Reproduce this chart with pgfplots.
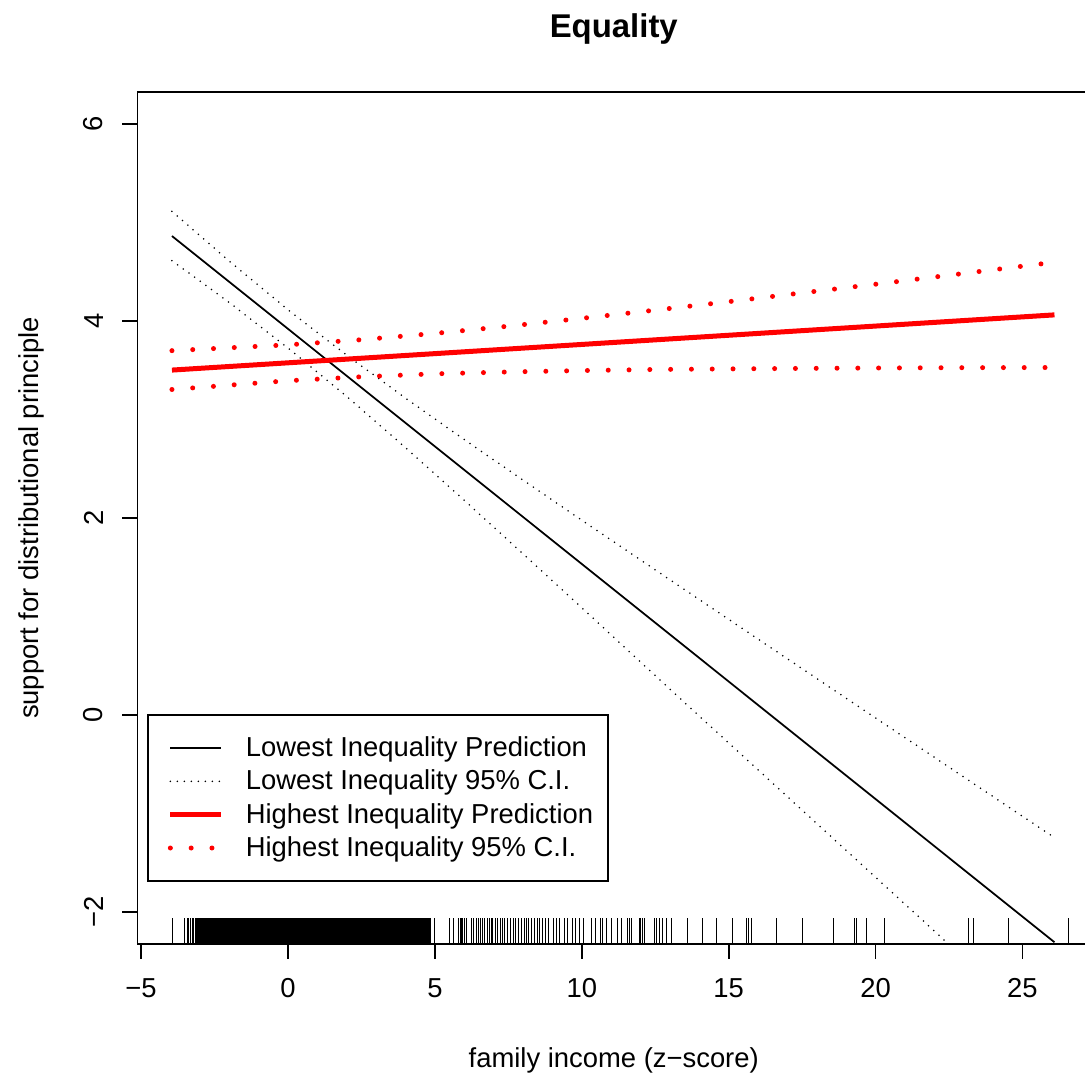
\documentclass[border=0pt]{standalone}
\usepackage{fontspec}
\setmainfont{Liberation Sans}
\usepackage{pgfplots}
\pgfplotsset{compat=1.18}
\newcommand\fs{\fontsize{13.7}{16.4}\selectfont}
\begin{document}
\begin{tikzpicture}
\begin{axis}[
  at={(0pt,0pt)}, anchor=south west,
  scale only axis, width=476.25pt, height=425.85pt,
  xmin=-5.123, xmax=27.30, ymin=-2.32, ymax=6.32,
  axis line style={line width=0.875pt},
  tick style={line width=0.875pt, black},
  tick align=outside, tick pos=left,
  major tick length=7.5pt,
  xtick={-5,0,5,10,15,20,25},
  xticklabels={−5,0,5,10,15,20,25},
  ytick={-2,0,2,4,6},
  yticklabels={−2,0,2,4,6},
  xticklabel style={anchor=north, inner sep=0pt, font=\fs},
  yticklabel style={rotate=90, anchor=south, inner sep=0pt, font=\fs},
  xticklabel shift=9.5pt, yticklabel shift=9.5pt,
  every axis title shift=0pt,
  title={Equality},
  title style={at={(axis description cs:0.5,1.0744)}, anchor=center, font=\bfseries\fontsize{16.45}{19.7}\selectfont, inner sep=0pt},
  xlabel={family income (z−score)},
  xlabel style={at={(axis description cs:0.5,-0.1374)}, anchor=center, font=\fs, inner sep=0pt},
  ylabel={support for distributional principle},
  ylabel style={at={(axis description cs:-0.1113,0.5)}, anchor=center, font=\fs, inner sep=0pt},
  legend style={
    at={(axis description cs:0.00997,0.0728)}, anchor=south west,
    draw=black, line width=0.875pt, fill=white,
    inner xsep=7.5pt, inner ysep=10.75pt,
    row sep=5.25pt, column sep=0pt,
    font=\fs,
    nodes={inner sep=0pt},
  },
  legend cell align=left,
  legend image code/.code={\path (0pt,0pt) (39pt,0pt); \draw[#1] (2.5pt,0pt) -- (28pt,0pt);},
]
% Lowest inequality prediction
\addplot[black, line width=0.875pt] coordinates {(-3.95,4.860) (26.09,-2.304)};
\addlegendentry{Lowest Inequality Prediction}
% Lowest inequality 95% CI (upper and lower)
\addplot[black, line width=0.875pt, line cap=round, dash pattern=on 0pt off 3.5pt] coordinates {
(-3.95,5.110) (-2,4.605) (0,4.112) (2,3.651) (4,3.215) (6,2.795) (8,2.384) (10,1.977) (12,1.574) (14,1.172) (16,0.771) (18,0.371) (20,-0.029) (22,-0.428) (24,-0.827) (26.09,-1.243)};
\addlegendentry{Lowest Inequality 95\% C.I.}
\addplot[black, line width=0.875pt, line cap=round, dash pattern=on 0pt off 3.5pt, forget plot] coordinates {
(-3.95,4.610) (-2,4.186) (0,3.724) (2,3.232) (4,2.713) (6,2.179) (8,1.636) (10,1.089) (12,0.538) (14,-0.010) (16,-0.555) (18,-1.100) (20,-1.645) (22,-2.190) (24,-2.740) (26.09,-3.310)};
% Highest inequality prediction
\addplot[red, line width=2.5pt] coordinates {(-3.95,3.500) (26.09,4.060)};
\addlegendentry{Highest Inequality Prediction}
\addplot[red, line width=2.5pt, line cap=round, dash pattern=on 0pt off 10.4pt] coordinates {
(-3.95,3.697) (0,3.756) (2.5,3.808) (5,3.872) (7.5,3.945) (10,4.025) (12.5,4.108) (15,4.194) (17.5,4.283) (20,4.371) (22.5,4.462) (26.09,4.594)};
\addlegendentry{Highest Inequality 95\% C.I.}
\addplot[red, line width=2.5pt, line cap=round, dash pattern=on 0pt off 10.4pt, forget plot] coordinates {
(-3.95,3.303) (0,3.392) (2.5,3.432) (5,3.462) (7.5,3.481) (10,3.495) (12.5,3.506) (15,3.512) (17.5,3.517) (20,3.521) (22.5,3.524) (26.09,3.526)};
% Rug: dense block
\addplot[black, only marks, mark=|, mark size=6.4pt, mark options={line width=0.8pt}, forget plot] coordinates {
(-3.15,-2.19) (-3.10,-2.19) (-3.05,-2.19) (-3.00,-2.19) (-2.95,-2.19) (-2.90,-2.19) (-2.85,-2.19) (-2.80,-2.19) (-2.75,-2.19) (-2.70,-2.19)
(-2.65,-2.19) (-2.60,-2.19) (-2.55,-2.19) (-2.50,-2.19) (-2.45,-2.19) (-2.40,-2.19) (-2.35,-2.19) (-2.30,-2.19) (-2.25,-2.19) (-2.20,-2.19)
(-2.15,-2.19) (-2.10,-2.19) (-2.05,-2.19) (-2.00,-2.19) (-1.95,-2.19) (-1.90,-2.19) (-1.85,-2.19) (-1.80,-2.19) (-1.75,-2.19) (-1.70,-2.19)
(-1.65,-2.19) (-1.60,-2.19) (-1.55,-2.19) (-1.50,-2.19) (-1.45,-2.19) (-1.40,-2.19) (-1.35,-2.19) (-1.30,-2.19) (-1.25,-2.19) (-1.20,-2.19)
(-1.15,-2.19) (-1.10,-2.19) (-1.05,-2.19) (-1.00,-2.19) (-0.95,-2.19) (-0.90,-2.19) (-0.85,-2.19) (-0.80,-2.19) (-0.75,-2.19) (-0.70,-2.19)
(-0.65,-2.19) (-0.60,-2.19) (-0.55,-2.19) (-0.50,-2.19) (-0.45,-2.19) (-0.40,-2.19) (-0.35,-2.19) (-0.30,-2.19) (-0.25,-2.19) (-0.20,-2.19)
(-0.15,-2.19) (-0.10,-2.19) (-0.05,-2.19) (0.00,-2.19) (0.05,-2.19) (0.10,-2.19) (0.15,-2.19) (0.20,-2.19) (0.25,-2.19) (0.30,-2.19)
(0.35,-2.19) (0.40,-2.19) (0.45,-2.19) (0.50,-2.19) (0.55,-2.19) (0.60,-2.19) (0.65,-2.19) (0.70,-2.19) (0.75,-2.19) (0.80,-2.19)
(0.85,-2.19) (0.90,-2.19) (0.95,-2.19) (1.00,-2.19) (1.05,-2.19) (1.10,-2.19) (1.15,-2.19) (1.20,-2.19) (1.25,-2.19) (1.30,-2.19)
(1.35,-2.19) (1.40,-2.19) (1.45,-2.19) (1.50,-2.19) (1.55,-2.19) (1.60,-2.19) (1.65,-2.19) (1.70,-2.19) (1.75,-2.19) (1.80,-2.19)
(1.85,-2.19) (1.90,-2.19) (1.95,-2.19) (2.00,-2.19) (2.05,-2.19) (2.10,-2.19) (2.15,-2.19) (2.20,-2.19) (2.25,-2.19) (2.30,-2.19)
(2.35,-2.19) (2.40,-2.19) (2.45,-2.19) (2.50,-2.19) (2.55,-2.19) (2.60,-2.19) (2.65,-2.19) (2.70,-2.19) (2.75,-2.19) (2.80,-2.19)
(2.85,-2.19) (2.90,-2.19) (2.95,-2.19) (3.00,-2.19) (3.05,-2.19) (3.10,-2.19) (3.15,-2.19) (3.20,-2.19) (3.25,-2.19) (3.30,-2.19)
(3.35,-2.19) (3.40,-2.19) (3.45,-2.19) (3.50,-2.19) (3.55,-2.19) (3.60,-2.19) (3.65,-2.19) (3.70,-2.19) (3.75,-2.19) (3.80,-2.19)
(3.85,-2.19) (3.90,-2.19) (3.95,-2.19) (4.00,-2.19) (4.05,-2.19) (4.10,-2.19) (4.15,-2.19) (4.20,-2.19) (4.25,-2.19) (4.30,-2.19)
(4.35,-2.19) (4.40,-2.19) (4.45,-2.19) (4.50,-2.19) (4.55,-2.19) (4.60,-2.19) (4.65,-2.19) (4.70,-2.19) (4.75,-2.19) (4.80,-2.19)
(4.85,-2.19)};
% Rug: individual observations
\addplot[black, only marks, mark=|, mark size=6.4pt, mark options={line width=0.5pt}, forget plot] coordinates {
(-3.94,-2.19) (-3.51,-2.19) (-3.42,-2.19) (-3.38,-2.19) (-3.32,-2.19) (-3.25,-2.19) (-3.21,-2.19)
(4.97,-2.19) (5.49,-2.19) (5.65,-2.19) (5.80,-2.19) (5.86,-2.19) (5.90,-2.19) (5.95,-2.19) (6.02,-2.19) (6.08,-2.19) (6.23,-2.19)
(6.32,-2.19) (6.40,-2.19) (6.48,-2.19) (6.55,-2.19) (6.63,-2.19) (6.70,-2.19) (6.78,-2.19) (6.86,-2.19) (6.93,-2.19) (6.97,-2.19)
(7.05,-2.19) (7.14,-2.19) (7.22,-2.19) (7.30,-2.19) (7.38,-2.19) (7.47,-2.19) (7.58,-2.19) (7.66,-2.19) (7.76,-2.19) (7.85,-2.19)
(7.95,-2.19) (8.05,-2.19) (8.12,-2.19) (8.18,-2.19) (8.28,-2.19) (8.38,-2.19) (8.48,-2.19) (8.57,-2.19) (8.65,-2.19) (8.75,-2.19)
(8.87,-2.19) (9.05,-2.19) (9.15,-2.19) (9.25,-2.19) (9.40,-2.19) (9.52,-2.19) (9.67,-2.19) (9.80,-2.19) (9.92,-2.19) (10.05,-2.19)
(10.34,-2.19) (10.45,-2.19) (10.63,-2.19) (10.72,-2.19) (10.85,-2.19) (11.02,-2.19) (11.21,-2.19) (11.36,-2.19) (11.55,-2.19) (11.61,-2.19)
(11.70,-2.19) (11.96,-2.19) (12.00,-2.19) (12.06,-2.19) (12.15,-2.19) (12.49,-2.19) (12.55,-2.19) (12.64,-2.19) (12.74,-2.19) (12.89,-2.19)
(13.06,-2.19) (13.60,-2.19) (14.11,-2.19) (14.59,-2.19) (15.12,-2.19) (15.61,-2.19) (15.67,-2.19) (15.78,-2.19) (16.63,-2.19) (17.51,-2.19)
(18.58,-2.19) (19.30,-2.19) (19.36,-2.19) (19.70,-2.19) (20.32,-2.19) (23.16,-2.19) (23.35,-2.19) (24.52,-2.19) (26.56,-2.19)};
\end{axis}
\pgfresetboundingbox
\useasboundingbox (-68.75pt,-67pt) rectangle (473.75pt,471.9pt);
\end{tikzpicture}
\end{document}
